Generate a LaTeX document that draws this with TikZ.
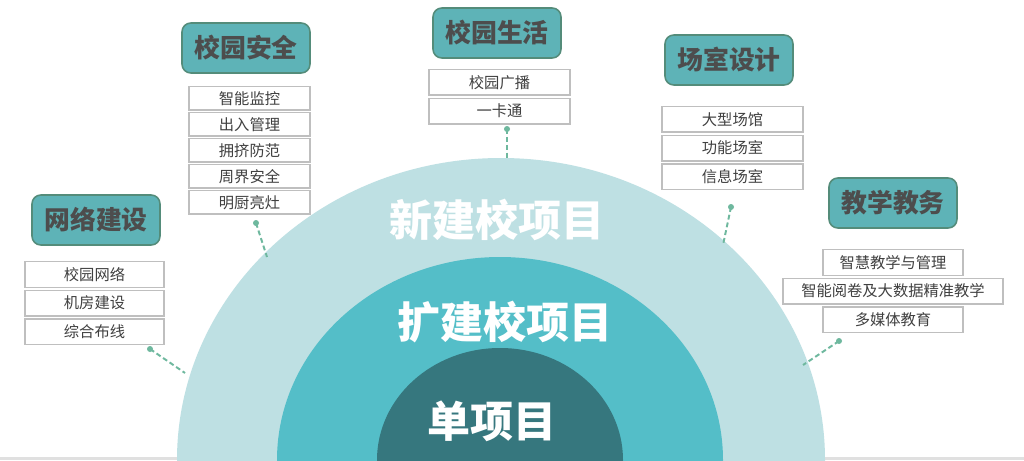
\documentclass[tikz,border=0pt]{standalone}
\usepackage{fontspec}
\setmainfont{Noto Sans CJK SC}
\usetikzlibrary{positioning}
\definecolor{ringA}{RGB}{190,224,227}
\definecolor{ringB}{RGB}{84,190,200}
\definecolor{ringC}{RGB}{54,119,126}
\definecolor{catfill}{RGB}{94,179,183}
\definecolor{catline}{RGB}{84,140,122}
\definecolor{cattext}{RGB}{77,77,77}
\definecolor{dotc}{RGB}{110,184,158}
\tikzset{
  cat/.style={draw=catline, line width=0.9pt, fill=catfill, rounded corners=5pt,
    minimum width=2.56cm, minimum height=1cm, text=cattext,
    font=\fontsize{14.7}{16}\selectfont\bfseries},
  item/.style={draw=black!25, line width=0.8pt, fill=white, minimum height=0.51cm,
    inner sep=1pt, text=black!75, font=\fontsize{8.7}{10}\selectfont},
  ring/.style={text=white, font=\fontsize{24.5}{28}\selectfont\bfseries},
  link/.style={draw=dotc, line width=1.1pt, dash pattern=on 2.8pt off 1.7pt},
}
\begin{document}
\begin{tikzpicture}[x=0.02cm,y=-0.02cm]
\useasboundingbox (0,0) rectangle (1024,460);
\fill[white] (0,0) rectangle (1024,460);
\fill[black!12] (0,457) rectangle (1024,460);
\begin{scope}
\clip (0,0) rectangle (1024,460);
\fill[ringA] (501,460) ellipse[x radius=324, y radius=302];
\fill[ringB] (500,460) ellipse[x radius=223, y radius=203];
\fill[ringC] (500,460) ellipse[x radius=123, y radius=112];
\end{scope}
\node[ring] (newp) at (497,220) {新建校项目};
\node[ring] (extp) at (505,322) {扩建校项目};
\node[ring] (onep) at (492,421) {单项目};

\node[cat] (net) at (96,220) {网络建设};
\node[item, minimum width=2.78cm, anchor=north] (net1) at (94.5,261) {校园网络};
\node[item, minimum width=2.78cm, below=1pt of net1] (net2) {机房建设};
\node[item, minimum width=2.78cm, below=1pt of net2] (net3) {综合布线};

\node[cat] (safe) at (246,48) {校园安全};
\node[item, minimum width=2.42cm, minimum height=0.47cm, anchor=north] (safe1) at (249.5,86) {智能监控};
\node[item, minimum width=2.42cm, minimum height=0.47cm, below=0.6pt of safe1] (safe2) {出入管理};
\node[item, minimum width=2.42cm, minimum height=0.47cm, below=0.6pt of safe2] (safe3) {拥挤防范};
\node[item, minimum width=2.42cm, minimum height=0.47cm, below=0.6pt of safe3] (safe4) {周界安全};
\node[item, minimum width=2.42cm, minimum height=0.47cm, below=0.6pt of safe4] (safe5) {明厨亮灶};

\node[cat] (life) at (497,33) {校园生活};
\node[item, minimum width=2.82cm, anchor=north] (life1) at (499.5,69) {校园广播};
\node[item, minimum width=2.82cm, below=1pt of life1] (life2) {一卡通};

\node[cat] (room) at (729,60) {场室设计};
\node[item, minimum width=2.82cm, anchor=north] (room1) at (732.5,106) {大型场馆};
\node[item, minimum width=2.82cm, below=1pt of room1] (room2) {功能场室};
\node[item, minimum width=2.82cm, below=1pt of room2] (room3) {信息场室};

\node[cat] (teach) at (893,203) {教学教务};
\node[item, minimum width=2.8cm, anchor=north] (teach1) at (893,249) {智慧教学与管理};
\node[item, minimum width=4.4cm, below=1pt of teach1] (teach2) {智能阅卷及大数据精准教学};
\node[item, minimum width=2.8cm, below=1pt of teach2] (teach3) {多媒体教育};

\coordinate (netdot) at (150,349);
\coordinate (netend) at (185,373);
\coordinate (safedot) at (256,223);
\coordinate (safeend) at (267,257);
\coordinate (lifedot) at (507,129);
\coordinate (lifeend) at (507,160);
\coordinate (roomdot) at (731,207);
\coordinate (roomend) at (723,245);
\coordinate (teachdot) at (839,341);
\coordinate (teachend) at (803,365);
\draw[link] (netdot) -- (netend);
\draw[link] (safedot) -- (safeend);
\draw[link] (lifedot) -- (lifeend);
\draw[link] (roomdot) -- (roomend);
\draw[link] (teachdot) -- (teachend);
\fill[dotc] (netdot) circle (3);
\fill[dotc] (safedot) circle (3);
\fill[dotc] (lifedot) circle (3);
\fill[dotc] (roomdot) circle (3);
\fill[dotc] (teachdot) circle (3);
\end{tikzpicture}
\end{document}
